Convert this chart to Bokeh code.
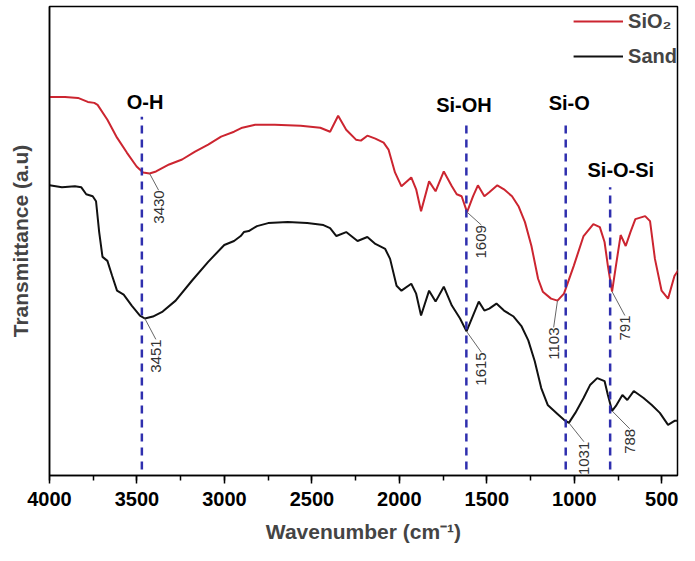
import numpy as np
from bokeh.plotting import figure
from bokeh.models import Range1d, SingleIntervalTicker, FixedTicker, Legend, LegendItem
from bokeh.embed import file_html
from bokeh.resources import INLINE
from bokeh.core.properties import value

# ---- data ----
sio2_wn = [4000, 3911, 3837, 3781, 3744, 3725, 3669, 3614, 3558, 3502, 3465, 3428, 3391,
           3316, 3242, 3168, 3093, 3019, 2945, 2898, 2824, 2712, 2564, 2452, 2396, 2350,
           2304, 2248, 2220, 2183, 2137, 2090, 2062, 2025, 1988, 1932, 1904, 1876, 1830,
           1793, 1746, 1700, 1672, 1644, 1613, 1579, 1551, 1514, 1486, 1440, 1402, 1356,
           1319, 1282, 1245, 1207, 1180, 1133, 1096, 1059, 1003, 947, 891, 854, 827, 808,
           784, 762, 735, 706, 679, 651, 595, 567, 539, 501, 464, 427, 399]
sio2_t = [383, 383, 382, 378, 377, 375, 360, 342, 327, 313, 307, 306, 308,
          315, 320, 328, 335, 343, 348, 352, 355, 355, 354, 352, 348, 364,
          350, 340, 339, 344, 341, 337, 330, 307, 293, 302, 290, 268, 298,
          288, 308, 293, 285, 283, 267, 283, 294, 283, 287, 294, 290, 283,
          273, 257, 233, 200, 187, 180, 178, 185, 213, 243, 255, 252, 237, 213,
          187, 213, 244, 233, 247, 260, 263, 258, 220, 188, 180, 203, 210]

sand_wn = [4000, 3929, 3855, 3818, 3790, 3753, 3734, 3716, 3697, 3669, 3642, 3614, 3576,
           3530, 3483, 3455, 3409, 3353, 3279, 3186, 3093, 3001, 2945, 2907, 2889, 2861,
           2814, 2750, 2638, 2527, 2434, 2396, 2360, 2304, 2239, 2183, 2137, 2081, 2053,
           2016, 1988, 1932, 1904, 1876, 1830, 1793, 1746, 1700, 1653, 1616, 1579, 1546,
           1514, 1486, 1445, 1402, 1347, 1301, 1263, 1226, 1189, 1152, 1096, 1059, 1031,
           994, 947, 910, 869, 827, 808, 784, 762, 725, 697, 660, 604, 557, 511, 464,
           427, 399]
sand_t = [294, 292, 293, 292, 285, 283, 278, 247, 222, 218, 203, 188, 184,
          173, 163, 160, 162, 167, 178, 198, 217, 234, 238, 243, 247, 248,
          253, 256, 257, 256, 254, 251, 243, 247, 238, 242, 235, 230, 220,
          193, 188, 195, 185, 163, 188, 177, 192, 173, 160, 147, 163, 177,
          168, 170, 175, 168, 162, 152, 138, 117, 90, 73, 64, 58, 55,
          65, 80, 93, 100, 97, 83, 67, 72, 83, 78, 87, 80, 73, 65, 53,
          57, 57]

band_names = ["O-H", "Si-OH", "Si-O", "Si-O-Si"]
band_wn = [3472, 1617, 1049, 795]
band_top = [363, 360, 360, 292]
band_bottom = [8, 8, 8, 8]
band_label_wn = [3454, 1631, 1029, 734]
band_label_t = [378, 375, 377, 309]

peak_labels = ["3430", "3451", "1609", "1615", "1103", "791", "1031", "788"]
peak_wn = [3428, 3455, 1613, 1616, 1096, 784, 1031, 784]
peak_t = [306, 160, 267, 147, 178, 187, 55, 67]
peak_text_wn = [3376, 3392, 1531, 1531, 1118, 711, 945, 683]
peak_text_t = [289, 139, 254, 126, 151, 163, 36, 49]

FONT = "Liberation Sans"

p = figure(width=679, height=545, output_backend="svg", toolbar_location=None,
           x_range=Range1d(4000, 410), y_range=Range1d(2, 474),
           min_border_left=49, min_border_right=2, min_border_top=6, min_border_bottom=67)
p.grid.visible = False
p.background_fill_color = "white"
p.border_fill_color = "white"
p.outline_line_color = "black"
p.outline_line_width = 1.5
p.outline_line_alpha = 1.0

r_red = p.line(sio2_wn, sio2_t, line_color="#cc2530", line_width=2)
r_blk = p.line(sand_wn, sand_t, line_color="#111111", line_width=2)

p.segment(x0=band_wn, y0=band_bottom, x1=band_wn, y1=band_top,
          line_color="#2f2fae", line_width=2.5, line_dash="8 6")
p.text(x=band_label_wn, y=band_label_t, text=band_names,
       text_font=value(FONT), text_font_style="bold", text_font_size="20px",
       text_align="center", text_baseline="middle", text_color="black")

p.segment(x0=peak_wn, y0=peak_t, x1=peak_text_wn, y1=peak_text_t,
          line_color="#666666", line_width=1)
p.text(x=peak_text_wn, y=peak_text_t, text=peak_labels, angle=np.pi / 2,
       text_font=value(FONT), text_font_size="15px", text_color="#333333",
       text_align="right", text_baseline="middle")

# x axis
xa = p.xaxis[0]
xa.ticker = SingleIntervalTicker(interval=500, num_minor_ticks=2)
xa.axis_label = "Wavenumber (cm⁻¹)"
xa.axis_label_text_font = FONT
xa.axis_label_text_font_style = "bold"
xa.axis_label_text_font_size = "21px"
xa.axis_label_standoff = 11
xa.major_label_text_font = FONT
xa.major_label_text_font_style = "bold"
xa.major_label_text_font_size = "20px"
xa.major_label_text_color = "black"
xa.major_label_standoff = 8
xa.axis_line_width = 1.5
xa.major_tick_line_width = 1.5
xa.minor_tick_line_width = 1.5
xa.major_tick_out = 8
xa.major_tick_in = 0
xa.minor_tick_out = 5
xa.minor_tick_in = 0

# y axis
ya = p.yaxis[0]
ya.ticker = FixedTicker(ticks=[])
ya.axis_label = "Transmittance (a.u)"
ya.axis_label_text_font = FONT
ya.axis_label_text_font_style = "bold"
ya.axis_label_text_font_size = "21px"
ya.axis_label_standoff = 18
ya.major_tick_out = 0
ya.major_tick_in = 0
ya.minor_tick_out = 0
ya.minor_tick_in = 0
ya.major_label_standoff = 0
ya.axis_line_width = 1.5

legend = Legend(items=[LegendItem(label="SiO₂", renderers=[r_red]),
                       LegendItem(label="Sand", renderers=[r_blk])],
                location="top_right", glyph_width=50, glyph_height=30,
                label_height=30, spacing=5, padding=6, margin=0, label_standoff=5,
                label_text_font=FONT, label_text_font_style="bold",
                label_text_font_size="20px", border_line_color=None,
                background_fill_alpha=0)
p.add_layout(legend)

open("out.html", "w").write(file_html(p, INLINE))
